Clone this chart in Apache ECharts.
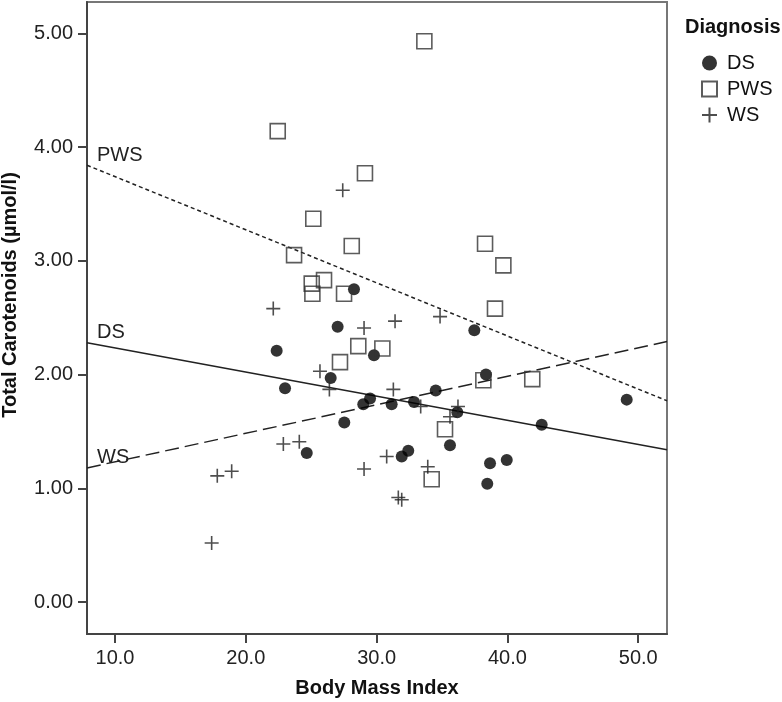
<!DOCTYPE html>
<html>
<head>
    <title>Total Carotenoids vs Body Mass Index</title>
    <script src="https://cdn.jsdelivr.net/npm/echarts@6/dist/echarts.min.js"></script>
    <style>
        html, body { margin: 0; padding: 0; background: #fff; }
    </style>
</head>
<body>
    <div id="main" style="width: 782px;height:702px;"></div>
    <script type="text/javascript">
        // [BMI, total carotenoids] per group
        var dsPoints = [
            [28.27, 2.75], [27.02, 2.42], [37.47, 2.39], [22.36, 2.21], [29.80, 2.17],
            [26.49, 1.97], [38.36, 2.00], [23.00, 1.88], [34.52, 1.86], [29.50, 1.79],
            [28.98, 1.74], [31.15, 1.74], [32.86, 1.76], [36.17, 1.67], [27.53, 1.58],
            [35.61, 1.38], [24.66, 1.31], [32.42, 1.33], [31.92, 1.28], [38.67, 1.22],
            [39.95, 1.25], [38.46, 1.04], [49.12, 1.78], [42.62, 1.56]
        ];
        var pwsPoints = [
            [33.65, 4.93], [22.44, 4.14], [29.11, 3.77], [25.16, 3.37], [28.10, 3.13],
            [38.29, 3.15], [23.69, 3.05], [25.98, 2.83], [25.04, 2.80], [25.09, 2.71],
            [27.51, 2.71], [39.69, 2.96], [39.05, 2.58], [28.60, 2.25], [30.44, 2.23],
            [27.20, 2.11], [38.16, 1.95], [41.90, 1.96], [35.23, 1.52], [34.21, 1.08]
        ];
        var wsPoints = [
            [27.41, 3.62], [22.10, 2.58], [34.85, 2.51], [31.41, 2.47], [29.04, 2.41],
            [25.67, 2.03], [26.39, 1.87], [31.28, 1.87], [33.37, 1.72], [36.22, 1.72],
            [35.61, 1.63], [22.87, 1.39], [24.09, 1.41], [30.77, 1.28], [29.04, 1.17],
            [33.91, 1.19], [31.66, 0.92], [31.92, 0.90], [17.82, 1.11], [18.92, 1.15],
            [17.39, 0.52]
        ];

        // fit line end points (at the left and right plot edges)
        var dsFit = [[7.86, 2.28], [52.2, 1.34]];
        var pwsFit = [[7.86, 3.84], [52.2, 1.77]];
        var wsFit = [[7.86, 1.18], [52.2, 2.29]];

        var xTicks = [10, 20, 30, 40, 50];
        var yTicks = [0, 1, 2, 3, 4, 5];

        var font = 'Liberation Sans';
        var plus = 'path://M0,5L10,5M5,0L5,10';

        var myChart = echarts.init(document.getElementById('main'));

        function fitLine(name, pts, type, tag) {
            return {
                name: name,
                type: 'line',
                data: [
                    {
                        value: pts[0],
                        label: {
                            show: true,
                            formatter: tag,
                            position: [10, -20],
                            fontFamily: font,
                            fontSize: 20,
                            color: '#222'
                        }
                    },
                    pts[1]
                ],
                symbol: 'circle',
                symbolSize: 0,
                showSymbol: true,
                silent: true,
                animation: false,
                z: 1,
                lineStyle: { color: '#222', width: 1.5, type: type }
            };
        }

        var option = {
            animation: false,
            textStyle: { fontFamily: font },
            title: {
                text: 'Diagnosis',
                left: 680,
                top: 12,
                textStyle: { fontFamily: font, fontSize: 20, fontWeight: 'bold', color: '#111' }
            },
            legend: {
                data: ['DS', 'PWS', 'WS'],
                orient: 'vertical',
                left: 696,
                top: 48,
                itemGap: 6,
                itemWidth: 15,
                itemHeight: 15,
                textStyle: { fontFamily: font, fontSize: 20, color: '#111', padding: [0, 0, 0, 5] }
            },
            graphic: [{
                type: 'text',
                x: 10,
                y: 295,
                rotation: Math.PI / 2,
                style: {
                    text: 'Total Carotenoids (µmol/l)',
                    font: 'bold 20px "Liberation Sans"',
                    fill: '#111',
                    align: 'center',
                    verticalAlign: 'middle'
                }
            }],
            grid: {
                left: 87,
                right: 115,
                top: 2,
                bottom: 68,
                show: true,
                borderColor: '#777',
                borderWidth: 2,
                containLabel: false,
                outerBoundsMode: 'none'
            },
            xAxis: {
                type: 'value',
                min: 7.86,
                max: 52.2,
                name: 'Body Mass Index',
                nameLocation: 'middle',
                nameGap: 44,
                nameTextStyle: { fontFamily: font, fontSize: 20, fontWeight: 'bold', color: '#111' },
                axisLine: { show: true, onZero: false, lineStyle: { color: '#444', width: 2 } },
                axisTick: { show: true, length: 9, customValues: xTicks, lineStyle: { color: '#444', width: 2 } },
                axisLabel: {
                    customValues: xTicks,
                    margin: 14,
                    fontFamily: font,
                    fontSize: 20,
                    color: '#222',
                    formatter: function (v) { return v.toFixed(1); }
                },
                splitLine: { show: false }
            },
            yAxis: {
                type: 'value',
                min: -0.28,
                max: 5.275,
                axisLine: { show: true, onZero: false, lineStyle: { color: '#444', width: 2 } },
                axisTick: { show: true, length: 9, customValues: yTicks, lineStyle: { color: '#444', width: 2 } },
                axisLabel: {
                    customValues: yTicks,
                    margin: 14,
                    fontFamily: font,
                    fontSize: 20,
                    color: '#222',
                    formatter: function (v) { return v.toFixed(2); }
                },
                splitLine: { show: false }
            },
            series: [
                fitLine('PWS fit', pwsFit, [4, 3], 'PWS'),
                fitLine('DS fit', dsFit, 'solid', 'DS'),
                fitLine('WS fit', wsFit, [14, 6], 'WS'),
                {
                    name: 'DS',
                    type: 'scatter',
                    data: dsPoints,
                    symbol: 'circle',
                    symbolSize: 12,
                    z: 3,
                    itemStyle: { color: '#000' }
                },
                {
                    name: 'PWS',
                    type: 'scatter',
                    data: pwsPoints,
                    symbol: 'rect',
                    symbolSize: 15,
                    z: 3,
                    itemStyle: { color: 'rgba(0,0,0,0)', borderColor: '#333', borderWidth: 1.6 }
                },
                {
                    name: 'WS',
                    type: 'scatter',
                    data: wsPoints,
                    symbol: plus,
                    symbolSize: 14,
                    z: 3,
                    itemStyle: { color: 'rgba(0,0,0,0)', borderColor: '#222', borderWidth: 1.6 }
                }
            ]
        };

        myChart.setOption(option);
    </script>
</body>
</html>
